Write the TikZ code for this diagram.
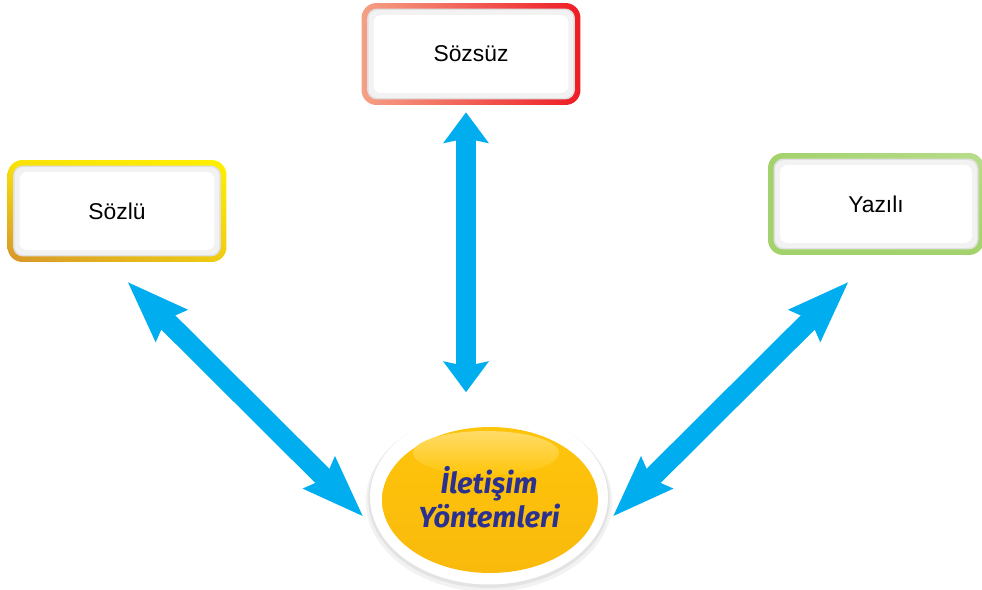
\documentclass[tikz,border=0pt]{standalone}
\usepackage{fontspec}
\setmainfont{Liberation Sans}
\newfontfamily\basfont{Fira Sans}
\usetikzlibrary{shapes.geometric,arrows.meta,shadows,shadings}
\definecolor{okmavi}{HTML}{00AEEF}
\definecolor{lacivert}{HTML}{2B3190}
\definecolor{sari}{HTML}{FFC60B}
\definecolor{koyusari}{HTML}{F9B90C}
\tikzset{
  kutu/.style={rounded corners=0.3cm, minimum width=4.38cm, minimum height=2.04cm,
    inner sep=0pt, shade, font=\fontsize{13}{15}\selectfont,
    path picture={
      \fill[gray!25, rounded corners=0.2cm]
        ([shift={(0.11cm,-0.11cm)}]path picture bounding box.north west) rectangle
        ([shift={(-0.11cm,0.11cm)}]path picture bounding box.south east);
      \fill[gray!10, rounded corners=0.18cm]
        ([shift={(0.14cm,-0.14cm)}]path picture bounding box.north west) rectangle
        ([shift={(-0.14cm,0.14cm)}]path picture bounding box.south east);
      \fill[white, rounded corners=0.15cm]
        ([shift={(0.24cm,-0.24cm)}]path picture bounding box.north west) rectangle
        ([shift={(-0.24cm,0.24cm)}]path picture bounding box.south east);
    }},
  yontem/.style={ellipse, minimum width=4.76cm, minimum height=3.5cm, inner sep=0pt,
    fill=white, align=center, text=lacivert,
    font=\basfont\bfseries\itshape\fontsize{16.5}{19}\selectfont,
    general shadow={fill=gray!10, shadow scale=1.035, shadow yshift=-0.08cm},
    general shadow={fill=gray!22, shadow scale=1.015, shadow yshift=-0.04cm},
    path picture={
      \shade[top color=sari, bottom color=koyusari]
        ([shift={(0.02cm,-0.06cm)}]path picture bounding box.center)
        ellipse [x radius=2.16cm, y radius=1.46cm];
      \shade[top color=sari!62!white, bottom color=sari]
        ([shift={(-0.06cm,0.88cm)}]path picture bounding box.center)
        ellipse [x radius=1.46cm, y radius=0.44cm];
    }},
  ok/.style={okmavi, line width=0.4cm,
    {Stealth[length=0.62cm, width=0.92cm, inset=0.1cm, line width=0pt]}-{Stealth[length=0.62cm, width=0.92cm, inset=0.1cm, line width=0pt]}},
  capraz/.style={okmavi, line width=0.4cm,
    {Stealth[length=1.24cm, width=0.92cm, inset=0.18cm, line width=0pt]}-{Stealth[length=1.24cm, width=0.92cm, inset=0.18cm, line width=0pt]}}
}
\definecolor{altin}{HTML}{D6962B}
\definecolor{limon}{HTML}{FFF000}
\definecolor{somon}{HTML}{F5A085}
\definecolor{kirmizi}{HTML}{EE1C25}
\definecolor{yesil}{HTML}{A3D26C}
\definecolor{acikyesil}{HTML}{B8DD8A}

\begin{document}
\begin{tikzpicture}[x=0.02cm, y=-0.02cm]
        \useasboundingbox (0,0) rectangle (982,589);

        % 方框
        \node[kutu, upper left=limon!85!altin, upper right=limon,
          lower left=altin, lower right=limon!60!altin] (sozlu) at (117,211) {Sözlü};
        \node[kutu, upper left=somon, lower left=somon,
          upper right=kirmizi, lower right=kirmizi] (sozsuz) at (471,54) {Sözsüz};
        \node[kutu, minimum width=4.32cm, upper left=yesil, lower left=yesil,
          upper right=acikyesil, lower right=yesil] (yazili) at (876,204) {Yazılı};

        % 椭圆
        \node[yontem] (yontem) at (489,497) {İletişim\\Yöntemleri};

        % 箭头
        \draw[ok] ([shift={(-5,7)}]sozsuz.south) -- ([shift={(-23,-17)}]yontem.north);
        \draw[capraz] ([shift={(11,20)}]sozlu.south) -- ([shift={(-7,19)}]yontem.west);
        \draw[capraz] ([shift={(-28,27)}]yazili.south) -- ([shift={(5,19)}]yontem.east);
\end{tikzpicture}
\end{document}
